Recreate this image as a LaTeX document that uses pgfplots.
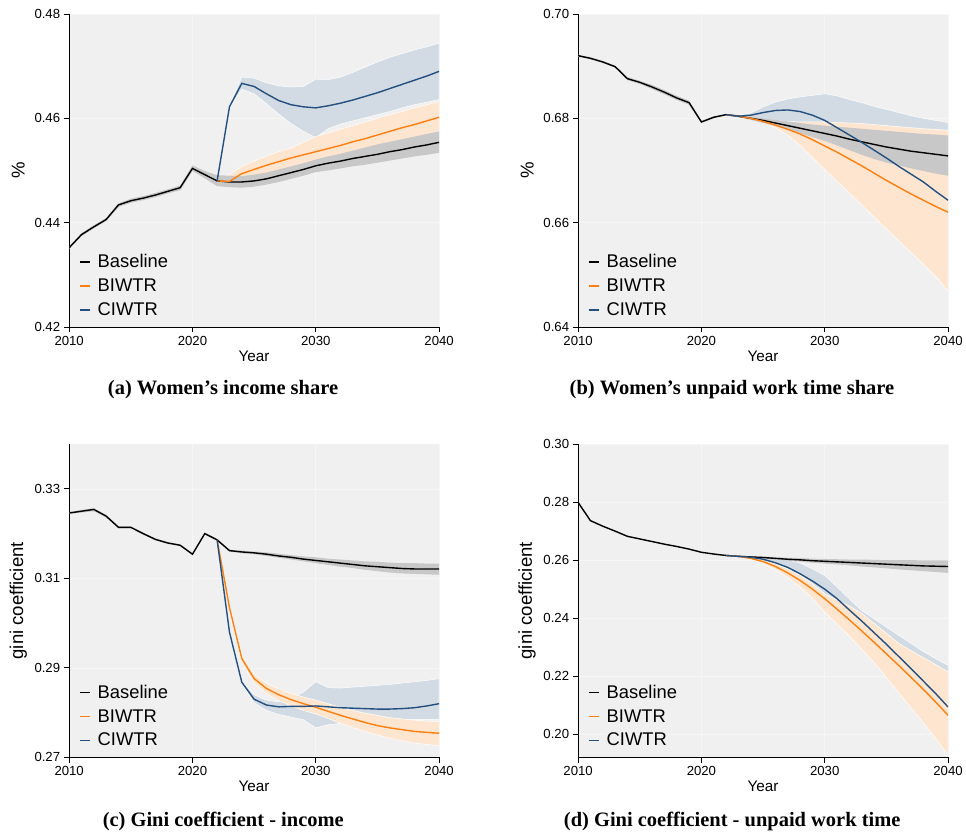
\documentclass[border=0pt]{standalone}
\usepackage{fontspec}
\setmainfont{Liberation Sans}
\newfontfamily\capfont{Liberation Serif}
\usepackage{pgfplots}
\pgfplotsset{compat=1.18}
\usepackage{pgfplotstable}
\usepgfplotslibrary{fillbetween}

\definecolor{bgc}{RGB}{240,240,240}
\definecolor{gridc}{RGB}{246,246,246}
\definecolor{orl}{RGB}{255,127,14}
\definecolor{bll}{RGB}{35,80,128}
\definecolor{orb}{RGB}{254,229,208}
\definecolor{blb}{RGB}{210,219,228}
\definecolor{grb}{RGB}{200,200,200}

\pgfplotstableread{
year m lo hi
2010 0.4352 0.4350 0.4354
2011 0.4377 0.4374 0.4380
2012 0.4392 0.4389 0.4395
2013 0.4406 0.4403 0.4409
2014 0.4434 0.4430 0.4437
2015 0.4442 0.4438 0.4446
2016 0.4447 0.4443 0.4451
2017 0.4453 0.4449 0.4457
2018 0.4460 0.4456 0.4464
2019 0.4467 0.4462 0.4471
2020 0.4504 0.4499 0.4510
2021 0.4492 0.4485 0.4499
2022 0.4480 0.4470 0.4491
2023 0.4478 0.4468 0.4490
2024 0.4478 0.4467 0.4489
2025 0.4480 0.4469 0.4492
2026 0.4484 0.4473 0.4496
2027 0.4490 0.4478 0.4502
2028 0.4496 0.4484 0.4508
2029 0.4502 0.4490 0.4514
2030 0.4509 0.4497 0.4521
2031 0.4514 0.4500 0.4527
2032 0.4518 0.4504 0.4532
2033 0.4523 0.4508 0.4538
2034 0.4527 0.4511 0.4544
2035 0.4531 0.4515 0.4550
2036 0.4536 0.4519 0.4555
2037 0.4540 0.4523 0.4560
2038 0.4545 0.4527 0.4565
2039 0.4549 0.4530 0.4570
2040 0.4554 0.4534 0.4575
}\baseA
\pgfplotstableread{
year o ol ou c cl cu
2022 0.4480 0.4477 0.4483 0.4480 0.4480 0.4480
2023 0.4479 0.4472 0.4492 0.4622 0.4619 0.4625
2024 0.4494 0.4482 0.4508 0.4667 0.4656 0.4679
2025 0.4502 0.4488 0.4518 0.4661 0.4647 0.4677
2026 0.4510 0.4493 0.4528 0.4647 0.4628 0.4668
2027 0.4517 0.4499 0.4536 0.4634 0.4608 0.4662
2028 0.4524 0.4505 0.4543 0.4626 0.4590 0.4660
2029 0.4530 0.4511 0.4554 0.4622 0.4575 0.4661
2030 0.4536 0.4517 0.4565 0.4620 0.4563 0.4675
2031 0.4542 0.4523 0.4572 0.4624 0.4580 0.4674
2032 0.4548 0.4529 0.4579 0.4629 0.4589 0.4679
2033 0.4555 0.4535 0.4586 0.4635 0.4595 0.4688
2034 0.4561 0.4541 0.4593 0.4642 0.4601 0.4698
2035 0.4568 0.4546 0.4600 0.4649 0.4607 0.4708
2036 0.4575 0.4552 0.4607 0.4657 0.4613 0.4717
2037 0.4582 0.4558 0.4613 0.4665 0.4620 0.4724
2038 0.4588 0.4563 0.4620 0.4673 0.4626 0.4731
2039 0.4595 0.4569 0.4626 0.4681 0.4631 0.4737
2040 0.4602 0.4575 0.4632 0.4690 0.4636 0.4744
}\scenA

\pgfplotstableread{
year m lo hi
2010 0.6920 0.6918 0.6922
2011 0.6915 0.6913 0.6917
2012 0.6908 0.6906 0.6910
2013 0.6899 0.6897 0.6901
2014 0.6876 0.6873 0.6879
2015 0.6869 0.6866 0.6872
2016 0.6860 0.6856 0.6864
2017 0.6850 0.6846 0.6854
2018 0.6839 0.6835 0.6843
2019 0.6830 0.6826 0.6834
2020 0.6793 0.6791 0.6795
2021 0.6802 0.6800 0.6804
2022 0.6807 0.6806 0.6808
2023 0.6804 0.6802 0.6806
2024 0.6800 0.6797 0.6803
2025 0.6796 0.6791 0.6800
2026 0.6791 0.6785 0.6797
2027 0.6786 0.6778 0.6794
2028 0.6781 0.6772 0.6791
2029 0.6776 0.6764 0.6788
2030 0.6771 0.6757 0.6786
2031 0.6766 0.6748 0.6784
2032 0.6760 0.6739 0.6782
2033 0.6755 0.6730 0.6780
2034 0.6750 0.6722 0.6778
2035 0.6745 0.6715 0.6776
2036 0.6741 0.6710 0.6774
2037 0.6737 0.6704 0.6772
2038 0.6734 0.6699 0.6770
2039 0.6731 0.6694 0.6769
2040 0.6728 0.6690 0.6767
}\baseB
\pgfplotstableread{
year o ol ou c cl cu
2022 0.6807 0.6807 0.6807 0.6807 0.6807 0.6807
2023 0.6804 0.6803 0.6806 0.6804 0.6803 0.6806
2024 0.6800 0.6799 0.6802 0.6806 0.6799 0.6810
2025 0.6794 0.6792 0.6799 0.6811 0.6796 0.6822
2026 0.6787 0.6782 0.6796 0.6815 0.6793 0.6831
2027 0.6779 0.6768 0.6794 0.6816 0.6791 0.6837
2028 0.6770 0.6748 0.6793 0.6813 0.6790 0.6841
2029 0.6759 0.6725 0.6793 0.6806 0.6790 0.6844
2030 0.6747 0.6702 0.6793 0.6796 0.6790 0.6847
2031 0.6735 0.6679 0.6792 0.6782 0.6778 0.6843
2032 0.6722 0.6657 0.6791 0.6768 0.6764 0.6836
2033 0.6709 0.6634 0.6790 0.6754 0.6750 0.6830
2034 0.6695 0.6611 0.6788 0.6739 0.6735 0.6823
2035 0.6681 0.6588 0.6786 0.6724 0.6720 0.6817
2036 0.6668 0.6565 0.6784 0.6708 0.6704 0.6811
2037 0.6655 0.6543 0.6782 0.6693 0.6689 0.6805
2038 0.6643 0.6520 0.6780 0.6678 0.6674 0.6800
2039 0.6631 0.6497 0.6779 0.6660 0.6656 0.6796
2040 0.6620 0.6469 0.6777 0.6643 0.6639 0.6792
}\scenB

\pgfplotstableread{
year m lo hi
2010 0.3246 0.3244 0.3248
2011 0.3250 0.3247 0.3253
2012 0.3254 0.3250 0.3257
2013 0.3239 0.3236 0.3242
2014 0.3214 0.3212 0.3216
2015 0.3214 0.3212 0.3216
2016 0.3200 0.3198 0.3202
2017 0.3187 0.3185 0.3189
2018 0.3179 0.3177 0.3181
2019 0.3174 0.3172 0.3176
2020 0.3154 0.3152 0.3156
2021 0.3200 0.3198 0.3202
2022 0.3186 0.3184 0.3188
2023 0.3162 0.3160 0.3164
2024 0.3159 0.3156 0.3162
2025 0.3157 0.3154 0.3160
2026 0.3154 0.3150 0.3158
2027 0.3150 0.3146 0.3155
2028 0.3147 0.3142 0.3152
2029 0.3143 0.3138 0.3149
2030 0.3140 0.3134 0.3147
2031 0.3137 0.3130 0.3144
2032 0.3134 0.3126 0.3142
2033 0.3131 0.3123 0.3140
2034 0.3128 0.3119 0.3138
2035 0.3126 0.3116 0.3137
2036 0.3124 0.3113 0.3135
2037 0.3122 0.3111 0.3134
2038 0.3121 0.3110 0.3134
2039 0.3121 0.3109 0.3133
2040 0.3121 0.3108 0.3133
}\baseC
\pgfplotstableread{
year o ol ou c cl cu
2022 0.3186 0.3186 0.3186 0.3186 0.3186 0.3186
2023 0.3035 0.3030 0.3040 0.2980 0.2977 0.2983
2024 0.2921 0.2913 0.2929 0.2868 0.2865 0.2871
2025 0.2876 0.2866 0.2886 0.2830 0.2822 0.2840
2026 0.2854 0.2842 0.2866 0.2817 0.2805 0.2828
2027 0.2840 0.2827 0.2853 0.2813 0.2796 0.2824
2028 0.2829 0.2815 0.2843 0.2814 0.2790 0.2833
2029 0.2820 0.2805 0.2835 0.2814 0.2784 0.2846
2030 0.2812 0.2797 0.2828 0.2815 0.2766 0.2869
2031 0.2803 0.2787 0.2820 0.2813 0.2773 0.2856
2032 0.2794 0.2776 0.2812 0.2811 0.2776 0.2855
2033 0.2786 0.2767 0.2805 0.2810 0.2778 0.2857
2034 0.2778 0.2758 0.2799 0.2809 0.2780 0.2859
2035 0.2771 0.2750 0.2794 0.2808 0.2782 0.2861
2036 0.2766 0.2743 0.2789 0.2808 0.2783 0.2863
2037 0.2762 0.2737 0.2786 0.2809 0.2784 0.2866
2038 0.2758 0.2732 0.2783 0.2811 0.2785 0.2869
2039 0.2756 0.2729 0.2781 0.2815 0.2785 0.2872
2040 0.2754 0.2726 0.2780 0.2820 0.2785 0.2876
}\scenC

\pgfplotstableread{
year m lo hi
2010 0.2799 0.2798 0.2800
2011 0.2736 0.2735 0.2737
2012 0.2717 0.2716 0.2718
2013 0.2700 0.2699 0.2701
2014 0.2682 0.2681 0.2683
2015 0.2673 0.2672 0.2674
2016 0.2664 0.2663 0.2665
2017 0.2655 0.2654 0.2656
2018 0.2647 0.2646 0.2648
2019 0.2638 0.2637 0.2639
2020 0.2627 0.2626 0.2628
2021 0.2621 0.2620 0.2622
2022 0.2616 0.2615 0.2617
2023 0.2613 0.2612 0.2614
2024 0.2611 0.2609 0.2613
2025 0.2609 0.2606 0.2612
2026 0.2606 0.2602 0.2610
2027 0.2603 0.2598 0.2608
2028 0.2601 0.2595 0.2607
2029 0.2598 0.2591 0.2605
2030 0.2596 0.2588 0.2604
2031 0.2594 0.2585 0.2603
2032 0.2592 0.2582 0.2602
2033 0.2590 0.2578 0.2602
2034 0.2588 0.2575 0.2601
2035 0.2586 0.2572 0.2600
2036 0.2584 0.2568 0.2600
2037 0.2582 0.2565 0.2600
2038 0.2580 0.2562 0.2599
2039 0.2579 0.2559 0.2599
2040 0.2578 0.2556 0.2599
}\baseD
\pgfplotstableread{
year o ol ou c cl cu
2022 0.2616 0.2616 0.2616 0.2616 0.2616 0.2616
2023 0.2613 0.2612 0.2614 0.2613 0.2612 0.2614
2024 0.2606 0.2603 0.2609 0.2610 0.2607 0.2612
2025 0.2595 0.2588 0.2601 0.2603 0.2598 0.2608
2026 0.2578 0.2567 0.2588 0.2591 0.2584 0.2604
2027 0.2556 0.2540 0.2570 0.2575 0.2566 0.2601
2028 0.2530 0.2508 0.2548 0.2553 0.2543 0.2590
2029 0.2500 0.2468 0.2519 0.2528 0.2515 0.2570
2030 0.2467 0.2421 0.2484 0.2500 0.2480 0.2547
2031 0.2431 0.2380 0.2463 0.2467 0.2447 0.2508
2032 0.2394 0.2338 0.2442 0.2428 0.2408 0.2466
2033 0.2356 0.2293 0.2417 0.2390 0.2370 0.2426
2034 0.2317 0.2247 0.2382 0.2350 0.2330 0.2398
2035 0.2277 0.2196 0.2348 0.2310 0.2290 0.2369
2036 0.2237 0.2143 0.2313 0.2268 0.2248 0.2341
2037 0.2196 0.2091 0.2288 0.2226 0.2206 0.2313
2038 0.2154 0.2039 0.2264 0.2183 0.2163 0.2285
2039 0.2111 0.1985 0.2240 0.2140 0.2120 0.2260
2040 0.2065 0.1928 0.2215 0.2094 0.2074 0.2237
}\scenD

\pgfplotsset{
  panel/.style={
    scale only axis, width=370.7pt, height=313.7pt, anchor=south west,
    xmin=2010, xmax=2040, xtick={2010,2020,2030,2040},
    axis x line*=bottom, axis y line*=left,
    axis line style={-, black, line width=0.8pt},
    tick align=outside, major tick length=5.5pt,
    tick style={black, line width=0.8pt},
    axis background/.style={fill=bgc},
    grid=major, grid style={gridc, line width=0.6pt},
    ticklabel style={font=\fontsize{13.2}{15}\selectfont},
    /pgf/number format/assume math mode=true,
    xticklabel style={/pgf/number format/1000 sep={}},
    yticklabel style={/pgf/number format/.cd, fixed, fixed zerofill, precision=2},
    xlabel={Year},
    xlabel style={font=\fontsize{15.3}{17}\selectfont, at={(axis description cs:0.5,-0.0924)}, anchor=center},
    ylabel style={font=\fontsize{18.6}{20}\selectfont, at={(axis description cs:-0.1376,0.5)}, anchor=center},
    legend cell align=left,
    legend style={draw=none, fill=none, font=\fontsize{18.4}{20}\selectfont,
      at={(axis description cs:0.027,0.028)}, anchor=south west,
      row sep=7.6pt, inner sep=0pt, nodes={inner sep=1pt},
      /tikz/every odd column/.append style={column sep=6pt}},
    legend image post style={xscale=0.586},
  },
  bandedge/.style={draw=white, line width=0.5pt},
}

\newcommand{\drawpanel}[2]{%
  \addplot[draw=none, name path=cu, forget plot] table[x=year, y=cu] {#2};
  \addplot[draw=none, name path=cl, forget plot] table[x=year, y=cl] {#2};
  \addplot[fill=blb, bandedge, forget plot] fill between[of=cu and cl];
  \addplot[draw=none, name path=ou, forget plot] table[x=year, y=ou] {#2};
  \addplot[draw=none, name path=ol, forget plot] table[x=year, y=ol] {#2};
  \addplot[fill=orb, bandedge, forget plot] fill between[of=ou and ol];
  \addplot[draw=none, name path=bu, forget plot] table[x=year, y=hi] {#1};
  \addplot[draw=none, name path=bl, forget plot] table[x=year, y=lo] {#1};
  \addplot[fill=grb, draw=none, forget plot] fill between[of=bu and bl];
  \addplot[black, line width=1.4pt] table[x=year, y=m] {#1};
  \addlegendentry{Baseline}
  \addplot[orl, line width=1.4pt] table[x=year, y=o] {#2};
  \addlegendentry{BIWTR}
  \addplot[bll, line width=1.4pt] table[x=year, y=c] {#2};
  \addlegendentry{CIWTR}
}

\begin{document}
\begin{tikzpicture}

\begin{axis}[panel, at={(69.3pt,509.3pt)}, ymin=0.42, ymax=0.48,
  ytick={0.42,0.44,0.46,0.48}, ylabel={\%}]
\drawpanel{\baseA}{\scenA}
\end{axis}

\begin{axis}[panel, at={(579.3pt,509.3pt)}, ymin=0.64, ymax=0.70,
  ytick={0.64,0.66,0.68,0.70}, ylabel={\%}]
\drawpanel{\baseB}{\scenB}
\end{axis}

\begin{axis}[panel, at={(69.3pt,78pt)}, height=314pt, ymin=0.27, ymax=0.34,
  ytick={0.27,0.29,0.31,0.33}, ylabel={gini coefficient}]
\drawpanel{\baseC}{\scenC}
\end{axis}

\begin{axis}[panel, at={(579.3pt,78pt)}, height=314pt, ymin=0.192, ymax=0.30,
  ytick={0.20,0.22,0.24,0.26,0.28,0.30}, ylabel={gini coefficient}]
\drawpanel{\baseD}{\scenD}
\end{axis}

\begin{scope}[every node/.style={font=\capfont\bfseries\fontsize{20.5}{24}\selectfont, anchor=center, inner sep=0pt}]
\node at (223.5pt,447pt) {(a) Women’s income share};
\node at (733.5pt,447pt) {(b) Women’s unpaid work time share};
\node at (223.7pt,14pt) {(c) Gini coefficient - income};
\node at (733.7pt,14pt) {(d) Gini coefficient - unpaid work time};
\end{scope}
\path (0pt,0pt) rectangle (966pt,837pt);
\end{tikzpicture}
\end{document}
